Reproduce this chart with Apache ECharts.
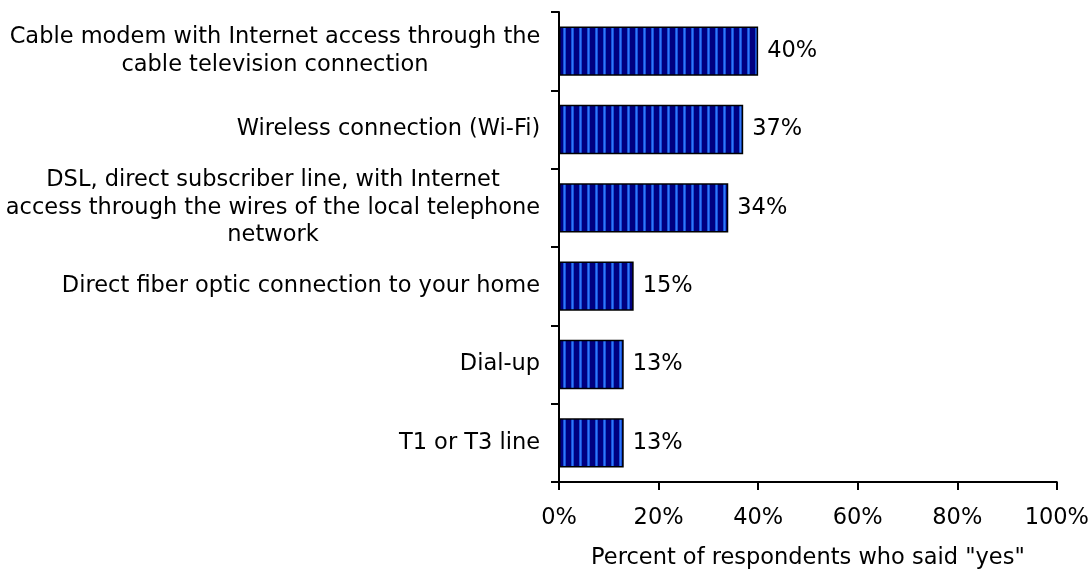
<!DOCTYPE html>
<html>
<head>
<meta charset="utf-8">
<script src="https://cdn.jsdelivr.net/npm/echarts@6/dist/echarts.min.js"></script>
<style>html,body{margin:0;padding:0;background:#fff}#c{width:1092px;height:575px}</style>
</head>
<body>
<div id="c"></div>
<script>
const categories = [
  "Cable modem with Internet access through the\ncable television connection",
  "Wireless connection (Wi-Fi)",
  "DSL, direct subscriber line, with Internet\naccess through the wires of the local telephone\nnetwork",
  "Direct fiber optic connection to your home",
  "Dial-up",
  "T1 or T3 line"
];
const values = [40, 37, 34, 15, 13, 13];
const xTicks = [0, 20, 40, 60, 80, 100];
const axisTitle = 'Percent of respondents who said "yes"';

const FONT = 'DejaVu Sans';
const FS = 22.5;
const pc = document.createElement('canvas');
pc.width = 8; pc.height = 8;
const g = pc.getContext('2d');
g.fillStyle = '#000080'; g.fillRect(0, 0, 8, 8);
g.fillStyle = '#1450d8'; g.fillRect(3, 0, 3, 8);
g.fillStyle = '#3478f8'; g.fillRect(4, 0, 1, 8);

// per-label rich styles so each multi-line label is centred on its own widest line
const mc = document.createElement('canvas').getContext('2d');
mc.font = FS + 'px "' + FONT + '"';
const rich = {};
categories.forEach((c, i) => {
  const w = Math.max(...c.split('\n').map(l => mc.measureText(l).width));
  rich['c' + i] = {width: Math.ceil(w) + 1, align: 'center', fontFamily: FONT, fontSize: FS, color: '#000', lineHeight: 27.5};
});

const chart = echarts.init(document.getElementById('c'), null, {renderer: 'canvas'});
chart.setOption({
  animation: false,
  grid: {left: 559, right: 33, top: 12, bottom: 93, containLabel: false},
  xAxis: {
    type: 'value', min: 0, max: 100, interval: 20,
    axisLine: {show: true, lineStyle: {color: '#000', width: 2}},
    axisTick: {show: true, length: 8, lineStyle: {color: '#000', width: 2}},
    splitLine: {show: false},
    axisLabel: {
      margin: 25, color: '#000', fontFamily: FONT, fontSize: FS,
      formatter: v => xTicks.includes(v) ? v + '%' : ''
    },
    name: axisTitle, nameLocation: 'middle', nameGap: 65,
    nameTextStyle: {color: '#000', fontFamily: FONT, fontSize: FS}
  },
  yAxis: {
    type: 'category', data: categories, inverse: true,
    axisLine: {show: true, lineStyle: {color: '#000', width: 2}},
    axisTick: {show: true, length: 8, lineStyle: {color: '#000', width: 2}},
    axisLabel: {
      margin: 18, align: 'right', rich: rich,
      formatter: (v, i) => v.split('\n').map(l => '{c' + i + '|' + l + '}').join('\n')
    }
  },
  series: [{
    type: 'bar', data: values, barCategoryGap: '37%',
    itemStyle: {color: {image: pc, repeat: 'repeat'}, borderColor: '#000', borderWidth: 1.5},
    label: {
      show: true, position: 'right', distance: 9, color: '#000',
      fontFamily: FONT, fontSize: FS, formatter: p => p.value + '%'
    }
  }]
});
</script>
</body>
</html>
